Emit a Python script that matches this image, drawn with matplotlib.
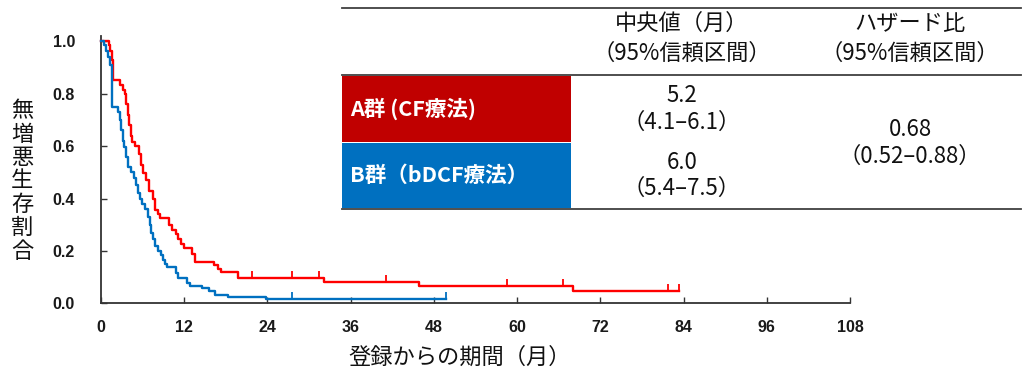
import numpy as np
import matplotlib
matplotlib.use("Agg")
import matplotlib.pyplot as plt
from matplotlib.path import Path
from matplotlib.patches import Rectangle
from matplotlib.lines import Line2D

plt.rcParams['font.family'] = ['Noto Sans CJK JP', 'DejaVu Sans']

# Kaplan-Meier step data: event times (months) and survival after each step
a_times = [0, 1.2, 1.4, 1.6, 1.8, 2.8, 3.2, 3.5, 3.7, 3.9, 4.1, 4.3, 4.5, 5.0,
           5.5, 5.8, 6.1, 6.6, 6.9, 7.6, 7.9, 8.2, 8.6, 9.9, 10.3, 10.8, 11.2,
           11.6, 12.0, 13.2, 13.6, 16.4, 16.9, 17.3, 19.8, 32.2, 45.8, 68.1]
a_surv = [1.0, 0.985, 0.965, 0.93, 0.852, 0.835, 0.815, 0.80, 0.76, 0.72, 0.68,
          0.64, 0.617, 0.600, 0.57, 0.53, 0.496, 0.47, 0.43, 0.40, 0.356, 0.34,
          0.324, 0.30, 0.28, 0.265, 0.245, 0.225, 0.211, 0.19, 0.156, 0.145,
          0.132, 0.118, 0.095, 0.083, 0.066, 0.047]
a_end = 83.4
a_censor = [21.8, 27.5, 31.4, 41.1, 58.5, 66.6, 81.7, 83.4]

b_times = [0, 0.5, 0.8, 1.1, 1.4, 1.6, 1.7, 2.5, 2.8, 3.0, 3.2, 3.4, 3.7, 4.0,
           4.3, 4.8, 5.1, 5.4, 5.7, 6.0, 6.4, 6.8, 7.1, 7.3, 7.6, 7.9, 8.3, 8.7,
           9.0, 9.3, 9.6, 10.8, 11.1, 12.4, 12.9, 14.6, 15.6, 16.5, 18.4, 23.8]
b_surv = [1.0, 0.985, 0.965, 0.94, 0.91, 0.80, 0.75, 0.73, 0.70, 0.66, 0.62,
          0.598, 0.56, 0.52, 0.50, 0.48, 0.45, 0.42, 0.40, 0.38, 0.36, 0.33,
          0.30, 0.27, 0.245, 0.22, 0.20, 0.185, 0.165, 0.15, 0.137, 0.115,
          0.095, 0.076, 0.066, 0.058, 0.048, 0.032, 0.025, 0.016]
b_end = 49.7
b_censor = [27.5, 49.7]

x_ticks = [0, 12, 24, 36, 48, 60, 72, 84, 96, 108]
y_ticks = [0.0, 0.2, 0.4, 0.6, 0.8, 1.0]

# Summary table contents
group_labels = ["A群 (CF療法)", "B群（bDCF療法）"]
medians = ["5.2", "6.0"]
median_ci = ["（4.1–6.1）", "（5.4–7.5）"]
hazard_ratio = "0.68"
hazard_ci = "（0.52–0.88）"
header_median = ["中央値（月）", "（95%信頼区間）"]
header_hr = ["ハザード比", "（95%信頼区間）"]

RED_LINE = "#FF0000"
BLUE_LINE = "#0070C0"
RED_CELL = "#C00000"
BLUE_CELL = "#0070C0"

W, H = 1023, 372
fig = plt.figure(figsize=(W / 100, H / 100), dpi=100)
ax = fig.add_axes([0.0984, 0.1847, 0.7327, 0.718])


def step_curve(times, surv, end):
    xs = list(times) + [end]
    ys = list(surv) + [surv[-1]]
    return xs, ys


def surv_at(times, surv, t):
    idx = np.searchsorted(times, t, side="right") - 1
    return surv[idx]


censor_marker = Path([[0, 0], [0, 1]], [Path.MOVETO, Path.LINETO])

for times, surv, end, cens, col in [
    (a_times, a_surv, a_end, a_censor, RED_LINE),
    (b_times, b_surv, b_end, b_censor, BLUE_LINE),
]:
    xs, ys = step_curve(times, surv, end)
    ax.step(xs, ys, where="post", color=col, lw=1.7, clip_on=False, zorder=3)
    cy = [surv_at(times, surv, t) for t in cens]
    ax.plot(cens, cy, linestyle="none", marker=censor_marker, markersize=10,
            markeredgewidth=1.3, color=col, clip_on=False, zorder=3)

ax.set_xlim(0, 108)
ax.set_ylim(0, 1.02)
ax.set_xticks(x_ticks)
ax.set_yticks(y_ticks)
ax.set_xticklabels([str(v) for v in x_ticks])
ax.set_yticklabels([f"{v:.1f}" for v in y_ticks])
for lab in ax.get_xticklabels() + ax.get_yticklabels():
    lab.set_fontfamily("Liberation Sans")
    lab.set_fontweight("bold")
    lab.set_fontsize(11.5)
    lab.set_color("#1a1a1a")
ax.tick_params(axis="both", direction="in", length=4, width=1.0, color="#333333")
ax.tick_params(axis="y", pad=18.5)
ax.tick_params(axis="x", pad=12)
for s in ["top", "right"]:
    ax.spines[s].set_visible(False)
for s in ["left", "bottom"]:
    ax.spines[s].set_linewidth(1.3)
    ax.spines[s].set_color("#333333")

# Axis titles
fig.text(22 / W, 1 - 181 / H, "\n".join("無増悪生存割合"), ha="center", va="center",
         fontsize=16, linespacing=1.02, color="#111111")
fig.text(460 / W, 1 - 357 / H, "登録からの期間（月）", ha="center", va="center",
         fontsize=16, color="#111111")


# Summary table (positions in pixels from top-left)
def fx(px):
    return px / W


def fy(py):
    return 1 - py / H


tx0, tx1 = 342, 1021
cell_right = 571
line_col = "#404040"
for yy in [8, 75, 209]:
    fig.add_artist(Line2D([fx(tx0), fx(tx1)], [fy(yy), fy(yy)], color=line_col,
                          lw=1.3, transform=fig.transFigure))

row_bounds = [(76, 142), (143, 208)]
cell_cols = [RED_CELL, BLUE_CELL]
for (y0, y1), col, lab in zip(row_bounds, cell_cols, group_labels):
    fig.add_artist(Rectangle((fx(tx0), fy(y1)), fx(cell_right) - fx(tx0),
                             fy(y0) - fy(y1), transform=fig.transFigure,
                             facecolor=col, edgecolor="none"))
    fig.text(fx(350), fy((y0 + y1) / 2), lab, ha="left", va="center",
             color="white", fontsize=15.5, fontweight="bold")

col1_x, col2_x = 682, 910
txt_col = "#111111"
fs = 16
fig.text(fx(col1_x), fy(23), header_median[0], ha="center", va="center", fontsize=fs, color=txt_col)
fig.text(fx(col1_x), fy(53), header_median[1], ha="center", va="center", fontsize=fs, color=txt_col)
fig.text(fx(col2_x), fy(23), header_hr[0], ha="center", va="center", fontsize=fs, color=txt_col)
fig.text(fx(col2_x), fy(53), header_hr[1], ha="center", va="center", fontsize=fs, color=txt_col)

for (y0, y1), m, ci in zip(row_bounds, medians, median_ci):
    yc = (y0 + y1) / 2
    fig.text(fx(col1_x), fy(yc - 13), m, ha="center", va="center", fontsize=fs, color=txt_col)
    fig.text(fx(col1_x), fy(yc + 13), ci, ha="center", va="center", fontsize=fs, color=txt_col)

fig.text(fx(col2_x), fy(129), hazard_ratio, ha="center", va="center", fontsize=fs, color=txt_col)
fig.text(fx(col2_x), fy(156), hazard_ci, ha="center", va="center", fontsize=fs, color=txt_col)

fig.savefig("out.png", dpi=100)
